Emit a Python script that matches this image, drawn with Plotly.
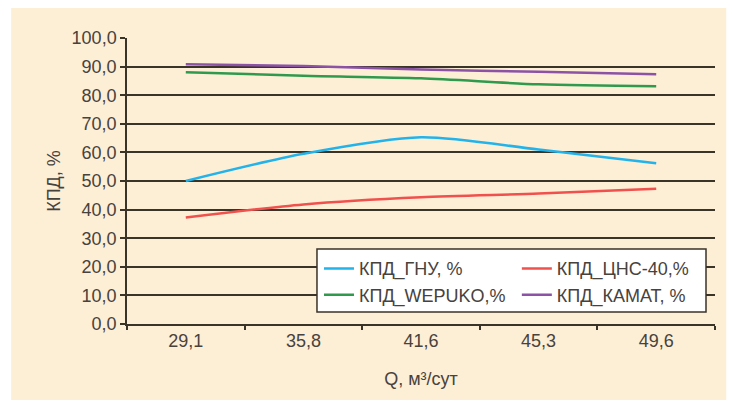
import plotly.graph_objects as go

# Flow rate categories (m³/day) and efficiency of each pump type, %
q_labels = ["29,1", "35,8", "41,6", "45,3", "49,6"]
eff_gnu = [50.0, 59.5, 65.3, 61.0, 56.2]
eff_cns40 = [37.2, 41.8, 44.3, 45.6, 47.3]
eff_wepuko = [88.0, 86.8, 85.9, 83.8, 83.1]
eff_kamat = [90.8, 90.2, 89.0, 88.2, 87.3]

series_names = ["КПД_ГНУ, %", "КПД_ЦНС-40,%", "КПД_WEPUKO,%", "КПД_КАМАТ, %"]
series_values = [eff_gnu, eff_cns40, eff_wepuko, eff_kamat]
series_colors = ["#22b3ea", "#f0514c", "#2f9a4e", "#8b52a6"]
# legend column for each series (two columns inside one framed box)
series_legend = ["legend", "legend2", "legend", "legend2"]

y_ticks = [0, 10, 20, 30, 40, 50, 60, 70, 80, 90, 100]
y_ticktext = ["0,0", "10,0", "20,0", "30,0", "40,0", "50,0", "60,0",
              "70,0", "80,0", "90,0", "100,0"]

fig = go.Figure()
for name, vals, col, lg in zip(series_names, series_values, series_colors, series_legend):
    fig.add_trace(go.Scatter(
        x=q_labels, y=vals, name=name, mode="lines", legend=lg,
        line=dict(color=col, width=2.5, shape="spline", smoothing=0.8),
    ))

font_col = "#48423c"
fs = 18
axis_col = "#3a3328"
legend_common = dict(
    orientation="v", y=0.258, xanchor="left", yanchor="top",
    bgcolor="rgba(0,0,0,0)", borderwidth=0, tracegroupgap=0,
    font=dict(size=fs, color=font_col), itemwidth=30,
)

fig.update_layout(
    width=732, height=407,
    margin=dict(l=127, r=17, t=38, b=83),
    paper_bgcolor="white",
    plot_bgcolor="rgba(0,0,0,0)",
    font=dict(family="Liberation Sans, Arial, sans-serif", size=fs, color=font_col),
    showlegend=True,
    legend=dict(x=0.3265, **legend_common),
    legend2=dict(x=0.663, **legend_common),
    shapes=[
        # cream panel behind the chart
        dict(type="rect", xref="paper", yref="paper", layer="below",
             x0=-0.197, x1=1.019, y0=-0.266, y1=1.105,
             fillcolor="#fdeed6", line=dict(width=0)),
        # framed white box holding both legend columns
        dict(type="rect", xref="paper", yref="paper", layer="above",
             x0=0.3231, x1=0.9847, y0=0.042, y1=0.262,
             fillcolor="white", line=dict(color=axis_col, width=1.5)),
    ],
)

fig.update_xaxes(
    type="category",
    range=[-0.5, 4.5],
    showgrid=False,
    showline=True, linecolor=axis_col, linewidth=1.5,
    ticks="outside", ticklen=4, tickcolor=axis_col, tickwidth=1.5,
    tickson="boundaries",
    tickfont=dict(size=fs, color=font_col),
    title=dict(text="Q, м³/сут", font=dict(size=fs, color=font_col), standoff=22),
    zeroline=False,
)
fig.update_yaxes(
    range=[0, 100],
    tickvals=y_ticks, ticktext=y_ticktext,
    showgrid=True, gridcolor=axis_col, gridwidth=1.5,
    showline=True, linecolor=axis_col, linewidth=1.5,
    ticks="outside", ticklen=5, tickcolor=axis_col, tickwidth=1.5,
    tickfont=dict(size=fs, color=font_col),
    title=dict(text="КПД, %", font=dict(size=fs, color=font_col), standoff=6),
    zeroline=False,
)

fig.write_html("out.html")
